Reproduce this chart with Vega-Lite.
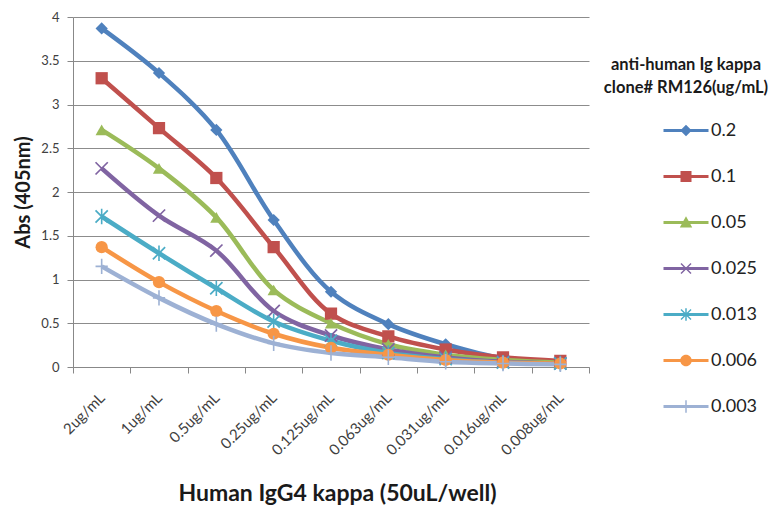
{
  "$schema": "https://vega.github.io/schema/vega-lite/v6.json",
  "width": 516,
  "height": 350,
  "autosize": {"type": "none"},
  "padding": {"left": 73, "top": 17, "right": 187, "bottom": 143},
  "background": "white",
  "config": {"font": "Lato", "view": {"stroke": null}},
  "data": {"values": [
    {"series": "0.2", "conc": "2ug/mL", "abs": 3.87},
    {"series": "0.2", "conc": "1ug/mL", "abs": 3.36},
    {"series": "0.2", "conc": "0.5ug/mL", "abs": 2.71},
    {"series": "0.2", "conc": "0.25ug/mL", "abs": 1.68},
    {"series": "0.2", "conc": "0.125ug/mL", "abs": 0.86},
    {"series": "0.2", "conc": "0.063ug/mL", "abs": 0.49},
    {"series": "0.2", "conc": "0.031ug/mL", "abs": 0.26},
    {"series": "0.2", "conc": "0.016ug/mL", "abs": 0.1},
    {"series": "0.2", "conc": "0.008ug/mL", "abs": 0.06},
    {"series": "0.1", "conc": "2ug/mL", "abs": 3.3},
    {"series": "0.1", "conc": "1ug/mL", "abs": 2.73},
    {"series": "0.1", "conc": "0.5ug/mL", "abs": 2.16},
    {"series": "0.1", "conc": "0.25ug/mL", "abs": 1.37},
    {"series": "0.1", "conc": "0.125ug/mL", "abs": 0.61},
    {"series": "0.1", "conc": "0.063ug/mL", "abs": 0.35},
    {"series": "0.1", "conc": "0.031ug/mL", "abs": 0.2},
    {"series": "0.1", "conc": "0.016ug/mL", "abs": 0.11},
    {"series": "0.1", "conc": "0.008ug/mL", "abs": 0.07},
    {"series": "0.05", "conc": "2ug/mL", "abs": 2.71},
    {"series": "0.05", "conc": "1ug/mL", "abs": 2.27},
    {"series": "0.05", "conc": "0.5ug/mL", "abs": 1.71},
    {"series": "0.05", "conc": "0.25ug/mL", "abs": 0.88},
    {"series": "0.05", "conc": "0.125ug/mL", "abs": 0.5},
    {"series": "0.05", "conc": "0.063ug/mL", "abs": 0.26},
    {"series": "0.05", "conc": "0.031ug/mL", "abs": 0.14},
    {"series": "0.05", "conc": "0.016ug/mL", "abs": 0.08},
    {"series": "0.05", "conc": "0.008ug/mL", "abs": 0.05},
    {"series": "0.025", "conc": "2ug/mL", "abs": 2.27},
    {"series": "0.025", "conc": "1ug/mL", "abs": 1.73},
    {"series": "0.025", "conc": "0.5ug/mL", "abs": 1.33},
    {"series": "0.025", "conc": "0.25ug/mL", "abs": 0.64},
    {"series": "0.025", "conc": "0.125ug/mL", "abs": 0.36},
    {"series": "0.025", "conc": "0.063ug/mL", "abs": 0.2},
    {"series": "0.025", "conc": "0.031ug/mL", "abs": 0.11},
    {"series": "0.025", "conc": "0.016ug/mL", "abs": 0.06},
    {"series": "0.025", "conc": "0.008ug/mL", "abs": 0.04},
    {"series": "0.013", "conc": "2ug/mL", "abs": 1.72},
    {"series": "0.013", "conc": "1ug/mL", "abs": 1.3},
    {"series": "0.013", "conc": "0.5ug/mL", "abs": 0.9},
    {"series": "0.013", "conc": "0.25ug/mL", "abs": 0.52},
    {"series": "0.013", "conc": "0.125ug/mL", "abs": 0.3},
    {"series": "0.013", "conc": "0.063ug/mL", "abs": 0.16},
    {"series": "0.013", "conc": "0.031ug/mL", "abs": 0.09},
    {"series": "0.013", "conc": "0.016ug/mL", "abs": 0.05},
    {"series": "0.013", "conc": "0.008ug/mL", "abs": 0.04},
    {"series": "0.006", "conc": "2ug/mL", "abs": 1.37},
    {"series": "0.006", "conc": "1ug/mL", "abs": 0.97},
    {"series": "0.006", "conc": "0.5ug/mL", "abs": 0.64},
    {"series": "0.006", "conc": "0.25ug/mL", "abs": 0.38},
    {"series": "0.006", "conc": "0.125ug/mL", "abs": 0.22},
    {"series": "0.006", "conc": "0.063ug/mL", "abs": 0.14},
    {"series": "0.006", "conc": "0.031ug/mL", "abs": 0.08},
    {"series": "0.006", "conc": "0.016ug/mL", "abs": 0.05},
    {"series": "0.006", "conc": "0.008ug/mL", "abs": 0.04},
    {"series": "0.003", "conc": "2ug/mL", "abs": 1.15},
    {"series": "0.003", "conc": "1ug/mL", "abs": 0.79},
    {"series": "0.003", "conc": "0.5ug/mL", "abs": 0.49},
    {"series": "0.003", "conc": "0.25ug/mL", "abs": 0.27},
    {"series": "0.003", "conc": "0.125ug/mL", "abs": 0.16},
    {"series": "0.003", "conc": "0.063ug/mL", "abs": 0.11},
    {"series": "0.003", "conc": "0.031ug/mL", "abs": 0.06},
    {"series": "0.003", "conc": "0.016ug/mL", "abs": 0.04},
    {"series": "0.003", "conc": "0.008ug/mL", "abs": 0.03}
  ]},
  "encoding": {
    "x": {
      "field": "conc", "type": "ordinal",
      "sort": ["2ug/mL", "1ug/mL", "0.5ug/mL", "0.25ug/mL", "0.125ug/mL", "0.063ug/mL", "0.031ug/mL", "0.016ug/mL", "0.008ug/mL"],
      "bandPosition": 0.5,
      "scale": {"type": "band", "paddingInner": 0, "paddingOuter": 0},
      "axis": {
        "title": "Human IgG4 kappa (50uL/well)",
        "titleFontSize": 23, "titleFontWeight": "bold", "titleColor": "#1a1a1a",
        "titleX": 264, "titleY": 126, "titleBaseline": "middle", "titleAlign": "center", "titleAnchor": null,
        "labelAngle": -45, "labelAlign": "right", "labelBaseline": "middle",
        "labelFontSize": 15, "labelColor": "#404040", "labelPadding": 22,
        "tickBand": "extent", "tickExtra": true, "tickSize": 6, "tickColor": "#888",
        "domainColor": "#888", "grid": false
      }
    },
    "y": {
      "field": "abs", "type": "quantitative",
      "scale": {"domain": [0, 4], "nice": false, "zero": true},
      "axis": {
        "title": "Abs (405nm)", "titleFontSize": 20, "titleFontWeight": "bold", "titleColor": "#1a1a1a",
        "titlePadding": 7,
        "values": [0, 0.5, 1, 1.5, 2, 2.5, 3, 3.5, 4], "format": "~g",
        "labelFontSize": 13, "labelColor": "#404040", "labelPadding": 8,
        "grid": true, "gridColor": "#8c8c8c", "gridWidth": 1,
        "tickSize": 6, "tickColor": "#888", "domainColor": "#888"
      }
    }
  },
  "layer": [
    {
      "mark": {"type": "line", "interpolate": "catmull-rom", "strokeWidth": 4.5},
      "encoding": {
        "color": {
          "field": "series", "type": "nominal",
          "scale": {
            "domain": ["0.2", "0.1", "0.05", "0.025", "0.013", "0.006", "0.003"],
            "range": ["#4F81BD", "#C0504D", "#9BBB59", "#8064A2", "#4BACC6", "#F79646", "#9DB1D4"]
          },
          "legend": null
        }
      }
    },
    {
      "mark": {"type": "point", "filled": true, "opacity": 1, "size": 150},
      "encoding": {
        "color": {"field": "series", "type": "nominal", "legend": null},
        "shape": {
          "field": "series", "type": "nominal",
          "scale": {
            "domain": ["0.2", "0.1", "0.05", "0.025", "0.013", "0.006", "0.003"],
            "range": [
              "diamond",
              "square",
              "triangle-up",
              "M-0.9,-1.1L1.1,0.9L0.9,1.1L-1.1,-0.9ZM-1.1,0.9L0.9,-1.1L1.1,-0.9L-0.9,1.1Z",
              "M-0.9,-1.1L1.1,0.9L0.9,1.1L-1.1,-0.9ZM-1.1,0.9L0.9,-1.1L1.1,-0.9L-0.9,1.1ZM-0.13,-1.25L0.13,-1.25L0.13,1.25L-0.13,1.25Z",
              "circle",
              "M-1,-0.13L1,-0.13L1,0.13L-1,0.13ZM-0.13,-1.25L0.13,-1.25L0.13,1.25L-0.13,1.25Z"
            ]
          },
          "legend": null
        }
      }
    },
    {
      "mark": {"type": "point", "filled": true, "opacity": 0, "size": 100},
      "encoding": {
        "color": {
          "field": "series", "type": "nominal",
          "legend": {
            "orient": "none", "legendX": 531, "legendY": 40,
            "title": ["anti-human Ig kappa", "clone# RM126(ug/mL)"],
            "titleFontSize": 16.5, "titleFontWeight": "bold", "titleColor": "#1a1a1a",
            "titleAlign": "center", "titleAnchor": "middle", "titleLineHeight": 23, "titlePadding": 25,
            "labelFontSize": 18, "labelColor": "#222", "labelOffset": 16,
            "symbolSize": 100, "symbolOffset": 62, "rowPadding": 28, "padding": 0,
            "symbolOpacity": 1, "symbolStrokeWidth": 0
          }
        },
        "shape": {
          "field": "series", "type": "nominal",
          "scale": {
            "domain": ["0.2", "0.1", "0.05", "0.025", "0.013", "0.006", "0.003"],
            "range": [
              "M-4.5,-0.3H4.5V0.3H-4.5ZM0,-1.15L1.15,0L0,1.15L-1.15,0Z",
              "M-4.5,-0.3H4.5V0.3H-4.5ZM-1.1,-1.1H1.1V1.1H-1.1Z",
              "M-4.5,-0.3H4.5V0.3H-4.5ZM0,-1.25L1.25,1L-1.25,1Z",
              "M-4.5,-0.3H4.5V0.3H-4.5ZM-0.9,-1.1L1.1,0.9L0.9,1.1L-1.1,-0.9ZM-1.1,0.9L0.9,-1.1L1.1,-0.9L-0.9,1.1Z",
              "M-4.5,-0.3H4.5V0.3H-4.5ZM-0.9,-1.1L1.1,0.9L0.9,1.1L-1.1,-0.9ZM-1.1,0.9L0.9,-1.1L1.1,-0.9L-0.9,1.1ZM-0.15,-1.25L0.15,-1.25L0.15,1.25L-0.15,1.25Z",
              "M-4.5,-0.3H4.5V0.3H-4.5ZM1.15,0A1.15,1.15,0,1,1,-1.15,0A1.15,1.15,0,1,1,1.15,0Z",
              "M-4.5,-0.3H4.5V0.3H-4.5ZM-0.15,-1.25L0.15,-1.25L0.15,1.25L-0.15,1.25Z"
            ]
          },
          "legend": {
            "orient": "none", "legendX": 531, "legendY": 40,
            "title": ["anti-human Ig kappa", "clone# RM126(ug/mL)"],
            "titleFontSize": 16.5, "titleFontWeight": "bold", "titleColor": "#1a1a1a",
            "titleAlign": "center", "titleAnchor": "middle", "titleLineHeight": 23, "titlePadding": 25,
            "labelFontSize": 18, "labelColor": "#222", "labelOffset": 16,
            "symbolSize": 100, "symbolOffset": 62, "rowPadding": 28, "padding": 0,
            "symbolOpacity": 1, "symbolStrokeWidth": 0
          }
        }
      }
    }
  ],
  "resolve": {
    "scale": {"shape": "independent"},
    "legend": {"color": "independent", "shape": "independent"}
  }
}
